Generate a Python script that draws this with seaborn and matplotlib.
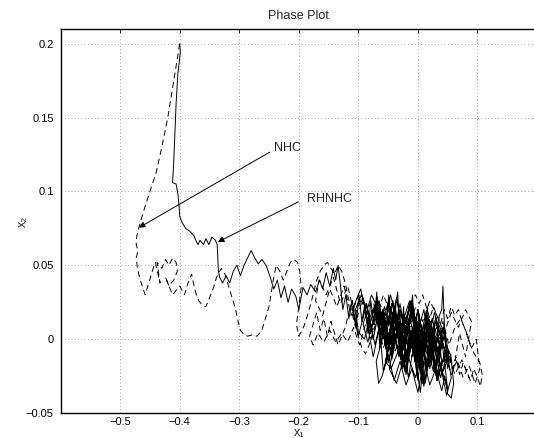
import matplotlib
matplotlib.use("Agg")
import matplotlib.pyplot as plt
import seaborn as sns
import pandas as pd

# RHNHC trajectory (solid)
rhnhc_x = [-0.400, -0.399, -0.403, -0.406, -0.408, -0.410, -0.412, -0.406, -0.403, -0.401,
           -0.400, -0.396, -0.390, -0.383, -0.376, -0.372, -0.369, -0.366, -0.360, -0.356,
           -0.351, -0.346, -0.340, -0.337, -0.336, -0.335, -0.333, -0.328, -0.322, -0.316,
           -0.310, -0.304, -0.298, -0.292, -0.286, -0.280, -0.274, -0.268, -0.262, -0.255,
           -0.248, -0.242, -0.236, -0.230, -0.224, -0.218, -0.212, -0.205, -0.200, -0.193,
           -0.186, -0.180, -0.172, -0.165, -0.160, -0.154, -0.148, -0.142, -0.138, -0.134,
           -0.130, -0.126, -0.121, -0.116, -0.110, -0.104, -0.099, -0.094, -0.089, -0.084,
           -0.079, -0.074, -0.069, -0.064, -0.059, -0.054, -0.049, -0.044, -0.039, -0.034,
           -0.029, -0.024, -0.019, -0.014, -0.009, -0.004, 0.001, 0.006, 0.011, 0.016,
           0.021, 0.026, 0.031, 0.036, 0.040, 0.042, 0.045, 0.050, 0.055, 0.060,
           0.056, 0.050, 0.045, 0.040, 0.030, 0.020, 0.010, 0.000, -0.010, -0.020,
           -0.030, -0.040, -0.050, -0.060, -0.066, -0.070, -0.060, -0.050, -0.040, -0.030,
           -0.020, -0.010, 0.000, 0.010, 0.020, 0.030, 0.040, 0.035, 0.025, 0.015,
           0.005, -0.005, -0.015, -0.025, -0.035, -0.045, -0.055, -0.065, -0.075, -0.085,
           -0.095, -0.105, -0.100, -0.090, -0.080, -0.070, -0.060, -0.050, -0.040, -0.030,
           -0.020, -0.010, 0.000, 0.010, 0.020, 0.030, 0.025, 0.015, 0.005, -0.005,
           -0.015, -0.025, -0.030, -0.020, -0.010, 0.000, 0.010, 0.020, 0.030, 0.040,
           0.035, 0.020, 0.005, -0.005, -0.015, -0.035, -0.045, -0.055, -0.045, -0.030,
           -0.015, 0.000, 0.012, 0.028, 0.048, 0.038, 0.022, 0.008, -0.008, -0.022,
           -0.038, -0.052, -0.062, -0.048, -0.028, -0.012, 0.004, 0.018, 0.032, 0.046,
           0.030, 0.015, 0.000, -0.015, -0.030, -0.045, -0.060, -0.075, -0.090, -0.080,
           -0.065, -0.050, -0.035, -0.020, -0.005, 0.010, 0.025, 0.038, 0.050, 0.040,
           0.028, 0.014, 0.000, -0.012, -0.026, -0.040, -0.054, -0.068, -0.082, -0.096,
           -0.110, -0.100, -0.086, -0.072, -0.058, -0.044, -0.030, -0.016, -0.002, 0.012,
           0.026, 0.040, 0.052, 0.044, 0.032, 0.018, 0.004, -0.010, -0.024, -0.038,
           -0.052, -0.066, -0.058, -0.042, -0.028, -0.014, 0.000, 0.014, 0.028, 0.042,
           0.056, 0.048, 0.034, 0.020, 0.006, -0.008, -0.022, -0.036, -0.050, -0.064,
           -0.078, -0.092, -0.084, -0.070, -0.056, -0.042, -0.028, -0.014, 0.002, 0.016,
           0.000, -0.018, -0.034, -0.048, -0.036, -0.020, -0.004, 0.012, 0.026, 0.036,
           0.024, 0.008, -0.008, -0.024, -0.040, -0.056, -0.044, -0.028, -0.012, 0.004,
           0.020, 0.034, 0.046, 0.030, 0.016, 0.000, -0.016, -0.032, -0.046, -0.060,
           -0.074, -0.062, -0.046, -0.030, -0.014, 0.002, 0.018, 0.032, 0.022, 0.006]
rhnhc_y = [0.200, 0.194, 0.180, 0.160, 0.140, 0.120, 0.106, 0.105, 0.098, 0.090,
           0.083, 0.079, 0.075, 0.073, 0.070, 0.066, 0.064, 0.067, 0.064, 0.068,
           0.064, 0.069, 0.067, 0.064, 0.055, 0.046, 0.042, 0.038, 0.043, 0.038,
           0.046, 0.050, 0.043, 0.050, 0.055, 0.060, 0.055, 0.051, 0.054, 0.050,
           0.042, 0.034, 0.040, 0.028, 0.036, 0.025, 0.034, 0.029, 0.020, 0.035,
           0.030, 0.037, 0.032, 0.040, 0.034, 0.045, 0.036, 0.048, 0.040, 0.050,
           0.036, 0.020, 0.030, 0.014, 0.026, 0.008, 0.030, 0.012, 0.024, 0.004,
           0.026, 0.010, 0.032, -0.006, 0.020, 0.000, 0.030, -0.012, 0.016, 0.032,
           -0.006, 0.022, -0.022, 0.012, 0.030, -0.012, 0.016, -0.026, 0.006, 0.022,
           -0.016, 0.010, -0.006, 0.016, 0.020, 0.036, 0.004, -0.020, -0.010, -0.030,
           -0.040, -0.037, -0.025, -0.035, -0.020, -0.031, -0.015, -0.036, -0.020, -0.031,
           -0.015, -0.028, -0.010, -0.025, -0.030, -0.015, 0.000, 0.015, 0.005, 0.020,
           0.000, 0.025, 0.005, 0.020, -0.005, 0.015, -0.015, -0.025, -0.010, -0.020,
           0.000, -0.015, 0.010, -0.015, 0.005, -0.010, 0.010, 0.020, 0.000, 0.020,
           0.030, 0.020, 0.005, 0.000, 0.015, 0.025, 0.010, 0.025, 0.015, 0.000,
           0.015, -0.005, 0.020, 0.000, 0.010, -0.010, 0.005, -0.010, 0.010, 0.000,
           0.005, 0.010, -0.010, -0.015, 0.005, -0.020, 0.010, -0.020, 0.000, 0.005,
           0.010, 0.000, -0.005, 0.015, -0.005, 0.010, 0.000, -0.015, -0.020, -0.005,
           -0.010, 0.012, -0.008, 0.018, -0.012, -0.026, 0.004, -0.030, 0.008, -0.022,
           0.014, -0.004, 0.018, 0.022, 0.002, 0.026, -0.018, 0.006, -0.028, -0.008,
           0.012, -0.018, 0.020, -0.010, 0.024, -0.004, 0.018, -0.012, 0.022, 0.004,
           0.026, -0.016, 0.014, -0.024, 0.010, -0.032, 0.006, -0.018, -0.034, 0.000,
           -0.022, 0.016, -0.028, 0.004, -0.020, 0.018, -0.006, 0.028, 0.008, 0.034,
           0.020, 0.002, 0.024, -0.004, 0.020, -0.014, 0.012, -0.026, 0.008, -0.030,
           0.002, -0.024, -0.012, 0.010, -0.028, 0.014, -0.036, 0.006, -0.018, 0.022,
           -0.008, 0.016, -0.022, 0.006, -0.014, 0.024, -0.006, 0.018, -0.020, 0.008,
           -0.026, -0.038, -0.010, 0.012, -0.016, 0.020, -0.004, 0.028, 0.000, 0.018,
           0.030, 0.010, -0.002, 0.022, 0.004, 0.026, -0.010, 0.016, -0.018, 0.010,
           0.004, -0.012, 0.010, -0.020, -0.030, -0.008, -0.026, 0.002, -0.022, -0.004,
           0.014, -0.010, 0.020, 0.000, 0.014, -0.004, 0.024, 0.004, 0.022, -0.014,
           0.012, -0.008, 0.004, -0.018, 0.016, -0.016, 0.010, -0.012, 0.018, 0.002,
           0.024, -0.002, 0.030, 0.006, 0.026, -0.006, 0.014, -0.002, 0.008, -0.006]

# NHC trajectory (dashed)
nhc_x = [-0.400, -0.404, -0.412, -0.420, -0.430, -0.440, -0.450, -0.458, -0.464, -0.469,
         -0.472, -0.473, -0.470, -0.473, -0.471, -0.467, -0.462, -0.458, -0.452, -0.446,
         -0.441, -0.437, -0.433, -0.438, -0.430, -0.424, -0.418, -0.412, -0.406, -0.404,
         -0.410, -0.418, -0.424, -0.412, -0.400, -0.392, -0.386, -0.380, -0.376, -0.372,
         -0.368, -0.362, -0.356, -0.350, -0.344, -0.338, -0.330, -0.324, -0.318, -0.312,
         -0.306, -0.302, -0.298, -0.292, -0.286, -0.278, -0.270, -0.262, -0.256, -0.250,
         -0.246, -0.242, -0.238, -0.232, -0.226, -0.220, -0.214, -0.208, -0.202, -0.198,
         -0.196, -0.200, -0.204, -0.200, -0.192, -0.184, -0.176, -0.170, -0.164, -0.158,
         -0.152, -0.146, -0.140, -0.134, -0.128, -0.122, -0.118, -0.112, -0.106, -0.100,
         -0.094, -0.088, -0.082, -0.076, -0.070, -0.064, -0.058, -0.052, -0.046, -0.040,
         -0.034, -0.028, -0.022, -0.016, -0.010, -0.004, 0.002, 0.008, 0.014, 0.020,
         0.026, 0.032, 0.038, 0.044, 0.050, 0.056, 0.062, 0.068, 0.074, 0.080,
         0.086, 0.092, 0.098, 0.104, 0.108, 0.105, 0.100, 0.094, 0.088, 0.082,
         0.076, 0.070, 0.064, 0.058, 0.052, 0.046, 0.040, 0.034, 0.028, 0.022,
         0.016, 0.010, 0.004, -0.002, -0.008, -0.014, -0.020, -0.026, -0.032, -0.038,
         -0.044, -0.050, -0.056, -0.062, -0.068, -0.074, -0.080, -0.086, -0.092, -0.098,
         -0.104, -0.110, -0.116, -0.122, -0.128, -0.134, -0.140, -0.146, -0.152, -0.158,
         -0.164, -0.170, -0.176, -0.182, -0.176, -0.168, -0.158, -0.148, -0.138, -0.128,
         -0.118, -0.108, -0.098, -0.088, -0.078, -0.068, -0.058, -0.048, -0.038, -0.028,
         -0.018, -0.008, 0.002, 0.012, 0.022, 0.032, 0.042, 0.052, 0.062, 0.072,
         0.082, 0.090, 0.098, 0.104, 0.096, 0.086, 0.076, 0.066, 0.056, 0.046,
         0.040, 0.050, 0.060, 0.070, 0.080, 0.090, 0.080, 0.068, 0.056, 0.044,
         0.032, 0.020, 0.008, -0.004, -0.016, -0.028, -0.040, -0.052, -0.064, -0.076,
         -0.088, -0.100, -0.112, -0.124, -0.136, -0.148, -0.160, -0.172, -0.166, -0.154,
         -0.142, -0.130, -0.118, -0.106, -0.094, -0.082, -0.070, -0.058, -0.046, -0.034,
         -0.022, -0.010, 0.002, 0.014, 0.026, 0.038, 0.050, 0.062, 0.074, 0.086]
nhc_y = [0.200, 0.190, 0.170, 0.150, 0.130, 0.112, 0.100, 0.090, 0.082, 0.075,
         0.070, 0.064, 0.060, 0.055, 0.048, 0.041, 0.035, 0.030, 0.038, 0.046,
         0.052, 0.045, 0.038, 0.052, 0.048, 0.054, 0.050, 0.055, 0.052, 0.046,
         0.040, 0.036, 0.042, 0.030, 0.036, 0.030, 0.038, 0.044, 0.036, 0.030,
         0.026, 0.023, 0.022, 0.028, 0.034, 0.042, 0.048, 0.044, 0.036, 0.028,
         0.020, 0.012, 0.006, 0.003, 0.002, 0.003, 0.002, 0.006, 0.014, 0.022,
         0.032, 0.042, 0.050, 0.046, 0.040, 0.046, 0.052, 0.054, 0.052, 0.045,
         0.035, 0.022, 0.010, 0.002, 0.008, 0.018, 0.030, 0.040, 0.046, 0.050,
         0.052, 0.048, 0.044, 0.050, 0.046, 0.038, 0.030, 0.020, 0.010, 0.002,
         -0.006, -0.010, -0.004, 0.004, 0.012, 0.022, 0.030, 0.024, 0.014, 0.004,
         -0.006, -0.002, 0.008, 0.018, 0.026, 0.030, 0.024, 0.030, 0.022, 0.014,
         0.022, 0.016, 0.010, 0.020, 0.014, 0.022, 0.016, 0.020, 0.012, 0.006,
         -0.002, -0.008, -0.012, -0.016, -0.024, -0.032, -0.026, -0.020, -0.028, -0.022,
         -0.016, -0.024, -0.012, -0.020, -0.008, -0.016, -0.004, -0.014, -0.002, -0.010,
         0.002, -0.008, 0.004, -0.004, 0.008, -0.002, 0.010, 0.002, 0.014, 0.006,
         0.018, 0.010, 0.022, 0.014, 0.020, 0.010, 0.024, 0.016, 0.028, 0.020,
         0.012, 0.026, 0.018, 0.008, 0.002, -0.004, 0.004, 0.012, 0.002, 0.014,
         0.006, 0.018, 0.010, 0.002, -0.004, 0.004, -0.002, 0.006, -0.002, 0.004,
         -0.002, 0.008, -0.004, 0.010, 0.000, 0.012, -0.006, 0.006, -0.008, 0.004,
         -0.010, 0.002, -0.012, 0.000, 0.010, -0.006, 0.012, -0.004, 0.008, 0.014,
         0.004, -0.006, 0.000, -0.020, -0.030, -0.018, -0.026, -0.014, -0.024, -0.010,
         -0.018, -0.006, -0.020, 0.004, -0.012, 0.012, 0.020, 0.008, 0.018, 0.004,
         0.016, 0.026, 0.012, 0.022, 0.004, 0.018, -0.002, 0.014, 0.024, 0.006,
         0.020, 0.030, 0.016, 0.036, 0.022, 0.034, 0.016, 0.026, 0.040, 0.030,
         0.042, 0.024, 0.036, 0.016, 0.028, 0.010, 0.022, 0.002, 0.012, -0.006,
         0.006, -0.012, 0.000, -0.016, -0.004, -0.020, -0.008, -0.024, -0.014, -0.026]

# annotation positions (data units)
labels = ["NHC", "RHNHC"]
label_xy = [(-0.241, 0.1293), (-0.186, 0.0948)]
arrow_tail = [(-0.249, 0.1266), (-0.2005, 0.093)]
arrow_tip = [(-0.4685, 0.0755), (-0.336, 0.0658)]

sns.set_theme(style="white")
plt.rcParams['font.family'] = ['Liberation Sans', 'DejaVu Sans']

fig = plt.figure(figsize=(5.34, 4.38), dpi=100)
W, H = 534, 438
ax = fig.add_axes([60.6 / W, 1 - 413 / H, (537 - 60.6) / W, (413 - 29) / H])

rh = pd.DataFrame({"x": rhnhc_x, "y": rhnhc_y})
nh = pd.DataFrame({"x": nhc_x, "y": nhc_y})
sns.lineplot(data=nh, x="x", y="y", sort=False, estimator=None, color="black",
             lw=0.7, linestyle=(0, (6, 4)), ax=ax)
sns.lineplot(data=rh, x="x", y="y", sort=False, estimator=None, color="black",
             lw=0.7, ax=ax)

ax.set_xlim(-0.6, 0.2)
ax.set_ylim(-0.05, 0.21)
ax.set_xticks([-0.5, -0.4, -0.3, -0.2, -0.1, 0, 0.1])
ax.set_xticklabels(["\u22120.5", "\u22120.4", "\u22120.3", "\u22120.2", "\u22120.1", "0", "0.1"])
ax.set_yticks([-0.05, 0, 0.05, 0.1, 0.15, 0.2])
ax.set_yticklabels(["\u22120.05", "0", "0.05", "0.1", "0.15", "0.2"])
ax.grid(True, linestyle=(0, (1, 3)), color="0.55", lw=0.6)
ax.tick_params(direction="in", top=True, right=True, length=3, width=0.6,
               labelsize=8, colors="black", pad=5)
ax.tick_params(axis="x", pad=3)
for s in ax.spines.values():
    s.set_color("black")
    s.set_linewidth(1.0)

ax.set_title("Phase Plot", fontsize=9, pad=7)
ax.set_xlabel("x\u2081", fontsize=9, labelpad=0)
ax.set_ylabel("x\u2082", fontsize=9, labelpad=-2)

for lab, pos, tail, tip in zip(labels, label_xy, arrow_tail, arrow_tip):
    ax.text(pos[0], pos[1], lab, fontsize=9, ha="left", va="center")
    ax.annotate("", xy=tip, xytext=tail,
                arrowprops=dict(arrowstyle="-|>", color="black", lw=0.7,
                                mutation_scale=9, shrinkA=0, shrinkB=0))

fig.savefig("out.png", dpi=100)
